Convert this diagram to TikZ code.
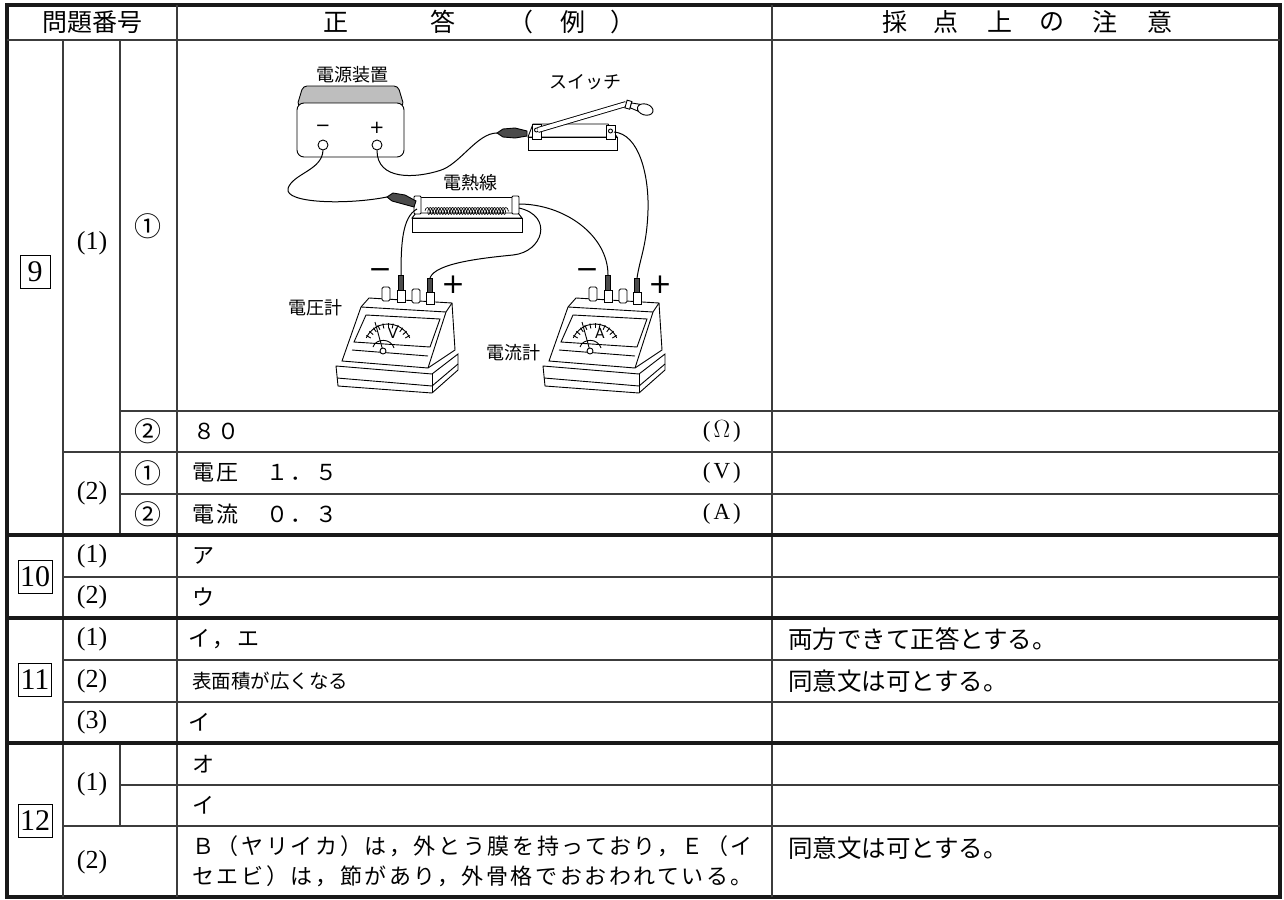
\documentclass[tikz,border=0pt]{standalone}
\usepackage{fontspec}
\setmainfont{Liberation Serif}
\newfontfamily\jp{Noto Sans CJK JP}
\newfontfamily\jpw[LetterSpace=12]{Noto Sans CJK JP}
\newfontfamily\sym{DejaVu Sans}
\usetikzlibrary{decorations.pathmorphing}
\definecolor{gridgray}{RGB}{60,60,60}
\definecolor{capgray}{RGB}{190,190,190}
\definecolor{clipgray}{RGB}{75,75,75}

\begin{document}
\begin{tikzpicture}[x=1pt, y=-1pt,
  rulethin/.style={line width=1.3pt, gridgray},
  ruleheavy/.style={line width=3.6pt, black!90},
  wire/.style={line width=1pt, black},
  part/.style={line width=0.9pt, black},
  head/.style={font=\jp\fontsize{25}{28}\selectfont, inner sep=0pt},
  qno/.style={font=\fontsize{26}{30}\selectfont, inner sep=0pt},
  circ/.style={font=\jp\fontsize{27}{30}\selectfont, inner sep=0pt},
  boxno/.style={draw, line width=1pt, inner xsep=2pt, minimum height=33pt, minimum width=30pt, font=\fontsize{30}{33}\selectfont},
  ans/.style={anchor=west, inner sep=0pt, font=\jpw\fontsize{22}{26}\selectfont},
  ansn/.style={anchor=west, inner sep=0pt, font=\jp\fontsize{19.5}{24}\selectfont},
  unit/.style={anchor=east, inner sep=0pt, font=\fontsize{23}{27}\selectfont},
  note/.style={anchor=west, inner sep=0pt, font=\jp\fontsize{24.5}{28}\selectfont},
  lab/.style={font=\jp\fontsize{18}{20}\selectfont, inner sep=0pt},
  pm/.style={font=\sym\fontsize{18}{20}\selectfont, inner sep=0pt},
  bigpm/.style={font=\sym\fontsize{28}{30}\selectfont, inner sep=0pt}]
  \useasboundingbox (0,0) rectangle (1284,899);

  %# TABLE FRAME
  \draw[ruleheavy] (7,5) rectangle (1280,897);
  \draw[rulethin] (7,40) -- (1280,40);
  \draw[rulethin] (177,5) -- (177,897);
  \draw[rulethin] (772,5) -- (772,897);
  \draw[rulethin] (63,40) -- (63,897);
  \draw[rulethin] (120,40) -- (120,535);
  \draw[rulethin] (120,743) -- (120,826);
  \draw[rulethin] (120,411) -- (1280,411);
  \draw[rulethin] (63,452) -- (1280,452);
  \draw[rulethin] (120,494) -- (1280,494);
  \draw[rulethin] (63,577) -- (1280,577);
  \draw[rulethin] (63,660) -- (1280,660);
  \draw[rulethin] (63,702) -- (1280,702);
  \draw[rulethin] (120,785) -- (1280,785);
  \draw[rulethin] (63,826) -- (1280,826);
  \draw[ruleheavy] (7,535) -- (1280,535);
  \draw[ruleheavy] (7,618) -- (1280,618);
  \draw[ruleheavy] (7,743) -- (1280,743);

  %# HEADER
  \node[head] (hnum) at (92,22) {問題番号};
  \node[head] (hans1) at (336,22) {正};
  \node[head] (hans2) at (443,22) {答};
  \node[head] (hans3) at (521,22) {（};
  \node[head] (hans4) at (573,22) {例};
  \node[head] (hans5) at (623,22) {）};
  \foreach \hx/\hc [count=\hi] in {895/採, 946/点, 1000/上, 1052/の, 1105/注, 1160/意}
    \node[head] (hnote\hi) at (\hx,22) {\hc};

  %# QUESTION 9
  \node[boxno] (n9) at (35,272) {9};
  \node[qno] (q9a) at (92,243) {(1)};
  \node[circ] (q9a1) at (148,226) {①};
  \node[circ] (q9a2) at (148,431) {②};
  \node[qno] (q9b) at (92,493) {(2)};
  \node[circ] (q9b1) at (148,473) {①};
  \node[circ] (q9b2) at (148,514) {②};
  \node[ans] (a9a2) at (193,431) {８０};
  \node[unit] (u9a2) at (741,431) {(\hspace{3pt}$\Omega$\hspace{3pt})};
  \node[ans] (a9b1) at (192,473) {電圧　１．５};
  \node[unit] (u9b1) at (741,473) {(\hspace{3pt}V\hspace{3pt})};
  \node[ans] (a9b2) at (192,514) {電流　０．３};
  \node[unit] (u9b2) at (741,514) {(\hspace{3pt}A\hspace{3pt})};

  %# QUESTION 10
  \node[boxno] (n10) at (35,577) {10};
  \node[qno] (q10a) at (92,556) {(1)};
  \node[qno] (q10b) at (92,597) {(2)};
  \node[ans] (a10a) at (192,556) {ア};
  \node[ans] (a10b) at (192,597) {ウ};

  %# QUESTION 11
  \node[boxno] (n11) at (35,680) {11};
  \node[qno] (q11a) at (92,639) {(1)};
  \node[qno] (q11b) at (92,681) {(2)};
  \node[qno] (q11c) at (92,722) {(3)};
  \node[ans] (a11a) at (188,639) {イ，エ};
  \node[ansn] (a11b) at (192,681) {表面積が広くなる};
  \node[ans] (a11c) at (188,722) {イ};
  \node[note] (c11a) at (788,639) {両方できて正答とする。};
  \node[note] (c11b) at (788,681) {同意文は可とする。};

  %# QUESTION 12
  \node[boxno] (n12) at (35,821) {12};
  \node[qno] (q12a) at (92,784) {(1)};
  \node[qno] (q12b) at (92,862) {(2)};
  \node[ans] (a12a1) at (192,764) {オ};
  \node[ans] (a12a2) at (192,805) {イ};
  \node[ans] (a12b1) at (192,846) {Ｂ（ヤリイカ）は，外とう膜を持っており，Ｅ（イ};
  \node[ans] (a12b2) at (192,876) {セエビ）は，節があり，外骨格でおおわれている。};
  \node[note] (c12b) at (788,848) {同意文は可とする。};

  %# POWER SUPPLY
  \draw[part, fill=capgray, rounded corners=4] (297,106) -- (303,86) -- (398,86) -- (404,106) -- cycle;
  \draw[part, fill=white, rounded corners=7] (297,103) rectangle (404,157);
  \node[pm] (psm) at (323,128) {−};
  \node[pm] (psp) at (377,128) {+};
  \node[part, draw, fill=white, circle, minimum size=10pt, inner sep=0pt] (psneg) at (323,145) {};
  \node[part, draw, fill=white, circle, minimum size=10pt, inner sep=0pt] (pspos) at (377,145) {};
  \node[lab] (pslab) at (352,75) {電源装置};

  %# SWITCH
  \draw[part, fill=white] (533,124) -- (608,124) -- (617,137) -- (528,137) -- cycle;
  \draw[part, fill=white] (528,137) rectangle (617,150);
  \draw[part, fill=white] (532,124) rectangle (541,139);
  \draw[part] (536.5,130) circle (2);
  \draw[part, fill=white] (606,125) rectangle (615,139);
  \draw[part] (610.5,131) circle (2);
  \draw[part, double, double distance=4pt] (538,130) -- (626,104);
  \begin{scope}[shift={(626,104)}, rotate=-16]
    \draw[part, fill=white] (0,-4) rectangle (5,4);
    \draw[part, fill=white] (5,-2.5) -- (13,-3.5) -- (13,3.5) -- (5,2.5) -- cycle;
    \draw[part, fill=white] (20,0) ellipse (8 and 5.5);
  \end{scope}
  \node[lab] (swlab) at (585,82) {スイッチ};
  \coordinate (swclip) at (497,133);
  \coordinate (swright) at (614,132);

  %# HEATING WIRE
  \draw[part, fill=white] (416,213) -- (518,213) -- (522,218) -- (412,218) -- cycle;
  \draw[part, fill=white] (412,218) rectangle (522,232);
  \draw[part] (416,197) -- (517,197);
  \draw[line width=0.6pt, decorate, decoration={coil, aspect=0.5, segment length=2.8pt, amplitude=3.5pt}] (425,211) -- (509,211);
  \draw[part, fill=white, rounded corners=1] (414,196) rectangle (421,214);
  \draw[part, fill=white, rounded corners=1] (512,196) rectangle (519,214);
  \node[lab] (htlab) at (470,183) {電熱線};
  \coordinate (htclip) at (387,197);
  \coordinate (htleft) at (417,209);
  \coordinate (htright) at (519,204);
  \coordinate (htright2) at (519,208);

  %# METERS
  \foreach \mx/\mn/\ml in {0/vm/V, 207/am/A}{
    \begin{scope}[shift={(\mx,0)}]
      \draw[part, fill=white] (336,366) -- (432,374) -- (458,354) -- (458,370) -- (432,393) -- (338,386) -- cycle;
      \draw[part] (432,374) -- (432,393);
      \draw[part] (337,378) -- (432,386) -- (458,364);
      \draw[part, fill=white] (342,361) -- (361,307) -- (369,298) -- (452,303) -- (455,350) -- (428,368) -- cycle;
      \draw[part] (361,307) -- (446,312) -- (452,303);
      \draw[part] (446,312) -- (428,368);
      \draw[part] (366,315) -- (440,319) -- (430,347) -- (354,342) -- cycle;
      \draw[part] (352,350) -- (428,356);
      \draw[part] (373,347) .. controls (376,338) and (391,338) .. (394,348);
      \draw[part] (388,348) ++(-155:24) arc[start angle=-155, end angle=-25, radius=24];
      \foreach \a in {-150,-138,...,-30}
        \draw[part] (388,348) ++(\a:20) -- ++(\a:5);
      \draw[part] (383,351) -- (375,322);
      \draw[part, fill=white] (383,351) circle (3);
      \node[font=\sym\fontsize{14}{14}\selectfont, inner sep=0pt] (\mn-lab) at (393,333) {\ml};
      \draw[part, fill=white, rounded corners=1.5] (382,287) rectangle (390,301);
      \draw[part, fill=white, rounded corners=1.5] (412,289) rectangle (420,303);
      \draw[part, fill=white] (397,290) rectangle (405,302);
      \draw[part, fill=clipgray] (398.5,275) rectangle (403.5,290);
      \draw[part, fill=white] (426,292) rectangle (434,304);
      \draw[part, fill=clipgray] (427.5,278) rectangle (432.5,292);
      \node[bigpm] (\mn-minus) at (380,274) {−};
      \node[bigpm] (\mn-plus) at (453,285) {+};
      \coordinate (\mn-neg) at (401,275);
      \coordinate (\mn-pos) at (430,278);
    \end{scope}
  }
  \node[lab] (vmlab) at (315,308) {電圧計};
  \node[lab] (amlab) at (513,353) {電流計};

  %# WIRES
  \draw[wire] (psneg.south) .. controls +(-1,20) and +(5,-15) .. ++(-35,38) .. controls +(-4,15) and +(-40,8) .. (htclip);
  \draw[wire] (pspos.south) .. controls +(0,30) and +(-25,8) .. ++(63,20) .. controls +(20,-6) and +(-20,0) .. (swclip);
  \draw[wire] (swright) .. controls +(25,2) and +(1,-35) .. ++(34,78) .. controls +(-1,35) and +(3,-20) .. (am-pos);
  \draw[wire] (htright) .. controls +(45,0) and +(0,-40) .. (am-neg);
  \draw[wire] (htright2) .. controls +(35,8) and +(30,-3) .. ++(-6,47) .. controls +(-30,3) and +(5,-15) .. (vm-pos);
  \draw[wire] (htleft) .. controls +(-15,8) and +(0,-30) .. (vm-neg);

  %# CLIPS
  \draw[part, fill=clipgray] (497,133) -- (503,129) -- (515,128) -- (527,131) -- (527,136) -- (515,138) -- (503,137) -- cycle;
  \draw[part, fill=clipgray] (387,197) -- (393,193) -- (405,195) -- (416,201) -- (414,207) -- (403,204) -- (392,201) -- cycle;
\end{tikzpicture}
\end{document}
